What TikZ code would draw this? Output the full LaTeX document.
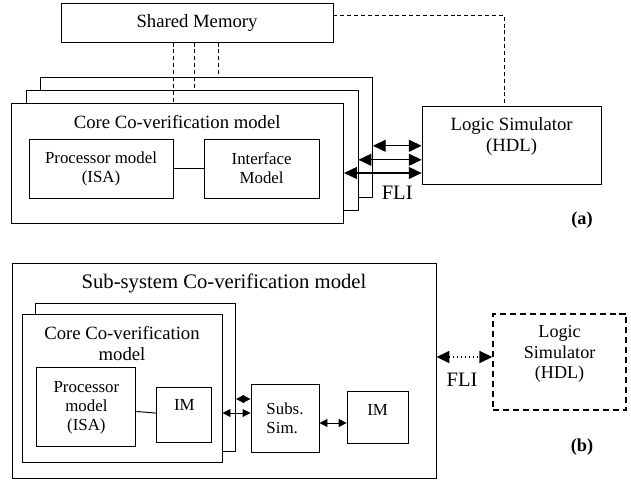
\documentclass[tikz,border=0pt]{standalone}
\usepackage{fontspec}
\setmainfont{Liberation Serif}
\usepackage{tikz}
\usetikzlibrary{
    arrows.meta,
    positioning
}

\begin{document}
\begin{tikzpicture}[
        box/.style={
            draw,
            line width=0.7pt,
            fill=white,
            align=center,
            inner sep=2pt,
            font=\fontsize{12}{13.5}\selectfont
        },
        txt/.style={
            align=center,
            inner sep=0pt,
            font=\fontsize{12.9}{14.6}\selectfont
        },
        big/.style={font=\fontsize{13.3}{15}\selectfont},
        shm/.style={line width=0.7pt, dash pattern=on 2.8pt off 2.1pt},
        fli/.style={
            line width=0.8pt,
            {Triangle[length=0.32cm,width=0.3cm]}-{Triangle[length=0.32cm,width=0.3cm]}
        },
        sublink/.style={
            line width=0.7pt,
            {Triangle[length=0.2cm,width=0.2cm]}-{Triangle[length=0.2cm,width=0.2cm]}
        }
    ]
    \useasboundingbox (0,0) rectangle (15.775,11.975);

    % (a) core co-verification with shared memory
    \node[box, big, minimum width=6.8cm, minimum height=0.975cm] (mem) at (4.925,11.41) {Shared Memory};

    \node[box, minimum width=4.475cm, minimum height=1.95cm] (logicA) at (12.79,8.33) {};
    \node[txt, big] (logicAtext) at (12.79,8.56) {Logic Simulator\\(HDL)};

    \node[box, minimum width=8.3cm, minimum height=3cm] (coreA) at (5.16,8.54) {};
    \node[box, minimum width=8.3cm, minimum height=3cm] (coreB) at (4.80,8.22) {};
    \node[box, minimum width=8.3cm, minimum height=3cm] (coreC) at (4.44,7.90) {};
    \node[txt, big] (coreCtitle) at (4.43,8.93) {Core Co-verification model};

    \node[box, minimum width=3.6cm, minimum height=1.475cm] (procA) at (2.525,7.76) {Processor model\\(ISA)};
    \node[box, minimum width=2.875cm, minimum height=1.475cm] (ifA) at (6.54,7.76) {Interface\\Model};
    \draw[line width=0.7pt] (procA) -- (ifA);

    \coordinate (m1) at ([xshift=-0.6cm]mem.south);
    \coordinate (m2) at ([xshift=-0.075cm]mem.south);
    \coordinate (m3) at ([xshift=0.525cm]mem.south);
    \draw[shm] (m1) -- (m1 |- coreC.north);
    \draw[shm] (m2) -- (m2 |- coreB.north);
    \draw[shm] (m3) -- (m3 |- coreA.north);
    \draw[shm] ([yshift=0.19cm]mem.east) -| ([xshift=-0.19cm]logicA.north);

    \coordinate (f1) at (logicA.west);
    \coordinate (f2) at ([yshift=-0.35cm]logicA.west);
    \coordinate (f3) at ([yshift=-0.68cm]logicA.west);
    \draw[fli] (coreA.east |- f1) -- (f1);
    \draw[fli] (coreB.east |- f2) -- (f2);
    \draw[fli] (coreC.east |- f3) -- (f3);
    \node[txt, font=\fontsize{14.6}{16}\selectfont] (fliA) at (9.93,7.15) {FLI};
    \node[txt, font=\bfseries\fontsize{13}{15}\selectfont] (labA) at (14.55,6.475) {(a)};

    % (b) sub-system co-verification
    \node[box, minimum width=10.6cm, minimum height=5.375cm] (subsys) at (5.6,2.71) {};
    \node[txt, font=\fontsize{14.7}{16}\selectfont] (subsystitle) at (5.6,4.9) {Sub-system Co-verification model};

    \node[box, minimum width=5cm, minimum height=3.7cm] (coreD) at (3.39,2.55) {};
    \node[box, minimum width=5cm, minimum height=3.7cm] (coreE) at (3.05,2.27) {};
    \node[txt, big] (coreEtitle) at (3.05,3.39) {Core Co-verification\\model};

    \node[box, minimum width=2.475cm, minimum height=1.975cm] (procB) at (2.16,1.79) {Processor\\model\\(ISA)};
    \node[box, text depth=0.5cm, minimum width=1.375cm, minimum height=1.375cm] (imB) at (4.61,1.59) {IM};
    \draw[line width=0.7pt] (procB) -- (imB);

    \node[box, align=left, minimum width=1.7cm, minimum height=1.7cm] (subs) at (7.125,1.525) {Subs.\\Sim.};
    \node[box, text depth=0.35cm, minimum width=1.525cm, minimum height=1.3cm] (imC) at (9.44,1.55) {IM};

    \coordinate (s1) at ([yshift=0.475cm]subs.west);
    \coordinate (s2) at ([yshift=0.125cm]subs.west);
    \coordinate (s3) at ([yshift=-0.125cm]subs.east);
    \draw[sublink] (coreD.east |- s1) -- (s1);
    \draw[sublink] (coreE.east |- s2) -- (s2);
    \draw[sublink] (s3) -- (imC.west |- s3);

    \node[box, dash pattern=on 4.3pt off 2.8pt, line width=1.2pt, minimum width=3.325cm, minimum height=2.4cm] (logicB) at (13.99,2.925) {};
    \node[txt] (logicBtext) at (13.99,3.125) {Logic\\Simulator\\(HDL)};

    \coordinate (f4) at ([yshift=0.34cm]subsys.east);
    \draw[fli, dotted] (f4) -- (logicB.west |- f4);
    \node[txt, font=\fontsize{14.6}{16}\selectfont] (fliB) at (11.55,2.475) {FLI};
    \node[txt, font=\bfseries\fontsize{13}{15}\selectfont] (labB) at (14.55,0.8) {(b)};

\end{tikzpicture}
\end{document}
